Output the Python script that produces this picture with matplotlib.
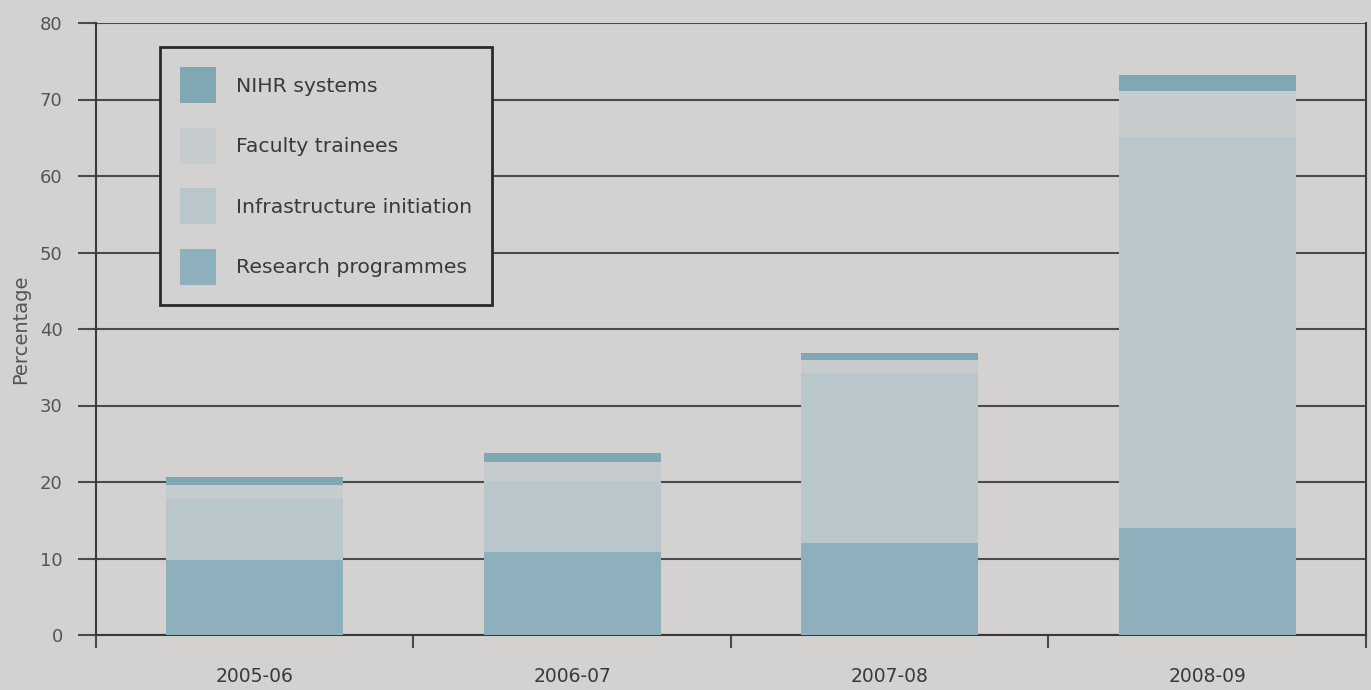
import matplotlib
matplotlib.use("Agg")
import matplotlib.pyplot as plt
from matplotlib.patches import Patch
import numpy as np

# Funding share by year, stacked from the bottom up
years = ["2005-06", "2006-07", "2007-08", "2008-09"]
research_programmes = [9.8, 10.8, 12.0, 14.0]
infrastructure_initiation = [8.0, 9.3, 22.2, 51.1]
faculty_trainees = [1.8, 2.5, 1.7, 6.0]
nihr_systems = [1.1, 1.2, 1.0, 2.1]
y_ticks = [0, 10, 20, 30, 40, 50, 60, 70, 80]

page = "#d4d2d0"
c_research = "#8eb0bc"
c_infra = "#b9c7cc"
c_faculty = "#c6ccce"
c_nihr = "#80a8b2"
ink = "#3a3a3a"
rule = "#4a4a4a"

plt.rcParams["font.family"] = ["DejaVu Sans"]

fig = plt.figure(figsize=(13.71, 6.90), dpi=100, facecolor=page)
ax = fig.add_axes([96 / 1371, 55 / 690, 1270 / 1371, 612 / 690])
ax.set_facecolor(page)

x = np.arange(len(years))
w = 0.557
series = [
    (research_programmes, c_research, "Research programmes"),
    (infrastructure_initiation, c_infra, "Infrastructure initiation"),
    (faculty_trainees, c_faculty, "Faculty trainees"),
    (nihr_systems, c_nihr, "NIHR systems"),
]
bottom = np.zeros(len(years))
for vals, col, name in series:
    ax.bar(x, vals, w, bottom=bottom, color=col, edgecolor="none", zorder=3)
    bottom += np.array(vals)

ax.set_xlim(-0.5, 3.5)
ax.set_ylim(0, 80)

# horizontal rules behind the bars
ax.set_yticks(y_ticks)
ax.yaxis.grid(True, color=rule, linewidth=1.5, zorder=1)
ax.set_axisbelow(True)
ax.tick_params(axis="y", length=13, width=1.5, color=rule,
               labelsize=13, labelcolor="#555555", pad=11)

# category boundaries as major ticks, names on minor ticks
ax.set_xticks([-0.5, 0.5, 1.5, 2.5, 3.5])
ax.set_xticklabels([])
ax.tick_params(axis="x", which="major", length=9.5, width=1.5, color=rule)
ax.set_xticks(x, minor=True)
ax.set_xticklabels(years, minor=True)
ax.tick_params(axis="x", which="minor", length=0, labelsize=13.5,
               labelcolor=ink, pad=23)

for s in ["left", "right", "bottom"]:
    ax.spines[s].set_color("#3a3a3a")
    ax.spines[s].set_linewidth(1.5)
ax.spines["top"].set_visible(False)

ax.set_ylabel("Percentage", fontsize=14, color="#555555", labelpad=7)

handles = [Patch(facecolor=c, edgecolor="none", label=n)
           for _, c, n in reversed(series)]
leg = ax.legend(handles=handles, loc="upper left",
                bbox_to_anchor=(0.0504, 0.961), frameon=True, fancybox=False,
                fontsize=14.7, handlelength=1.75, handleheight=2.34,
                labelspacing=1.2, handletextpad=0.95, borderpad=1.0,
                borderaxespad=0)
leg.get_frame().set_edgecolor("#2a2a2a")
leg.get_frame().set_linewidth(2)
leg.get_frame().set_facecolor(page)
leg.get_frame().set_alpha(1)
for t in leg.get_texts():
    t.set_color(ink)
leg.set_zorder(5)

fig.savefig("out.png", dpi=100, facecolor=page)
